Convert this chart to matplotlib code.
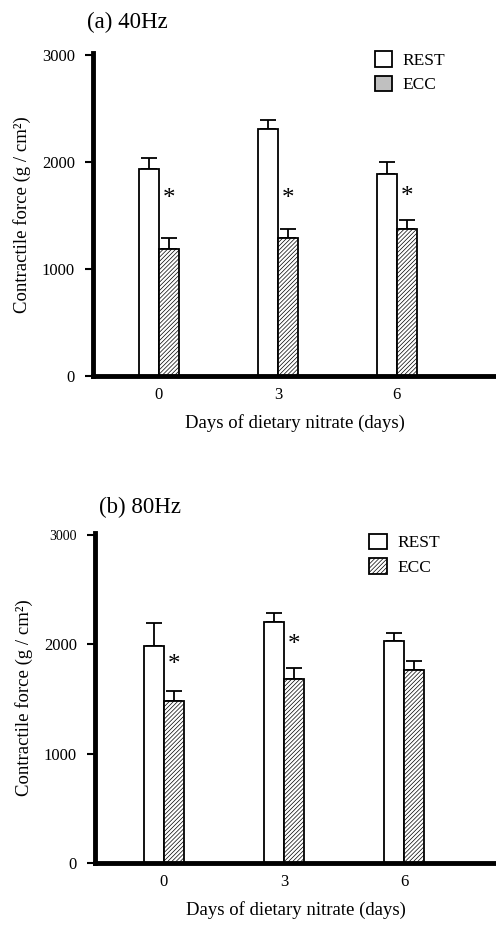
import matplotlib.pyplot as plt
from matplotlib.patches import Patch

plt.rcParams['font.family'] = ['Liberation Serif', 'DejaVu Serif']
plt.rcParams['hatch.linewidth'] = 0.5
plt.rcParams['hatch.color'] = '#666666'

days = [0, 3, 6]
day_labels = ['0', '3', '6']

# (a) 40Hz
rest_40 = [1940, 2310, 1890]
rest_40_err = [95, 85, 110]
ecc_40 = [1190, 1290, 1375]
ecc_40_err = [100, 85, 85]
star_40 = [1660, 1660, 1670]

# (b) 80Hz
rest_80 = [1985, 2200, 2030]
rest_80_err = [210, 85, 75]
ecc_80 = [1485, 1685, 1765]
ecc_80_err = [90, 100, 80]
star_80 = [1810, 1990, None]

bar_w = 0.5


def draw_panel(ax, rest, rest_err, ecc, ecc_err, stars, title, legend_hatched, xlim,
               title_x, title_pad, leg_anchor):
    xr = [d - bar_w / 2 for d in days]
    xe = [d + bar_w / 2 for d in days]
    ax.bar(xr, rest, width=bar_w, color='white', edgecolor='black', linewidth=1.3, zorder=2)
    ax.bar(xe, ecc, width=bar_w, color='white', edgecolor='black', linewidth=1.3,
           hatch='////////', zorder=2)
    ax.errorbar(xr, rest, yerr=[[0] * 3, rest_err], fmt='none', ecolor='black',
                elinewidth=1.3, capsize=5.5, capthick=1.3, zorder=1)
    ax.errorbar(xe, ecc, yerr=[[0] * 3, ecc_err], fmt='none', ecolor='black',
                elinewidth=1.3, capsize=5.5, capthick=1.3, zorder=1)
    for x, s in zip(xe, stars):
        if s is not None:
            ax.text(x, s, '*', ha='center', va='center', fontsize=18)

    ax.set_xlim(*xlim)
    ax.set_ylim(0, 3020)
    ax.set_yticks([0, 1000, 2000, 3000])
    ax.set_xticks(days)
    ax.set_xticklabels(day_labels)
    ax.tick_params(axis='x', length=0, labelsize=12, pad=8)
    ax.tick_params(axis='y', length=6, width=1.5, labelsize=12, pad=7)
    for s in ['top', 'right']:
        ax.spines[s].set_visible(False)
    ax.spines['left'].set_linewidth(3.5)
    ax.spines['bottom'].set_linewidth(3.5)
    ax.set_ylabel('Contractile force (g / cm²)', fontsize=13.5, labelpad=8)
    ax.set_xlabel('Days of dietary nitrate (days)', fontsize=13.5, labelpad=8)
    ax.set_title(title, fontsize=16.5, loc='left', x=title_x, pad=title_pad)

    if legend_hatched:
        ecc_patch = Patch(facecolor='white', edgecolor='black', hatch='////////', linewidth=1.3)
    else:
        ecc_patch = Patch(facecolor='#c0c0c0', edgecolor='black', linewidth=1.3)
    rest_patch = Patch(facecolor='white', edgecolor='black', linewidth=1.3)
    ax.legend([rest_patch, ecc_patch], ['REST', 'ECC'], loc='upper left',
              bbox_to_anchor=leg_anchor, frameon=False, fontsize=12.5,
              handlelength=1.0, handleheight=1.0, handletextpad=0.6, labelspacing=0.4)


fig = plt.figure(figsize=(4.96, 9.25), dpi=100)
ax1 = fig.add_axes([0.1875, 0.5935, 0.8125, 0.349])
draw_panel(ax1, rest_40, rest_40_err, ecc_40, ecc_40_err, star_40, '(a) 40Hz', False,
           (-1.66, 8.5), -0.015, 18, (0.66, 1.055))
ax2 = fig.add_axes([0.1915, 0.067, 0.8085, 0.357])
draw_panel(ax2, rest_80, rest_80_err, ecc_80, ecc_80_err, star_80, '(b) 80Hz', True,
           (-1.72, 8.3), 0.01, 14, (0.645, 1.045))
ax2.get_yticklabels()[-1].set_fontsize(10)

fig.savefig('out.png', dpi=100, facecolor='white')
